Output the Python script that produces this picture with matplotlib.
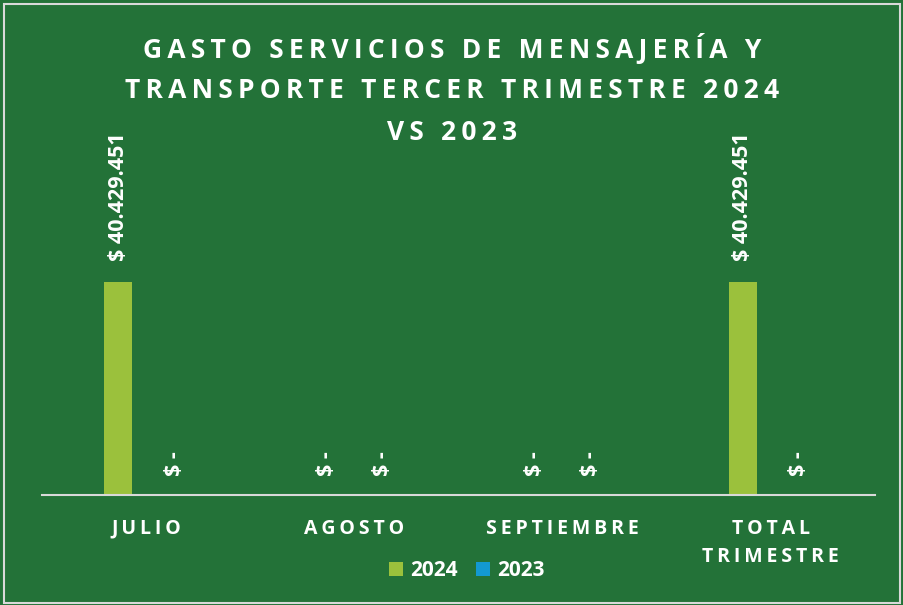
import matplotlib.pyplot as plt
import numpy as np
from matplotlib.patches import Rectangle

categories = ['JULIO', 'AGOSTO', 'SEPTIEMBRE', 'TOTAL\nTRIMESTRE']
v2024 = [40429451, 0, 0, 40429451]
v2023 = [0, 0, 0, 0]
series = ['2024', '2023']
title_lines = ['GASTO SERVICIOS DE MENSAJERÍA Y', 'TRANSPORTE TERCER TRIMESTRE 2024', 'VS 2023']

BG = '#237238'
C24 = '#9BC13C'
C23 = '#1399D1'
FONT = ['Open Sans', 'DejaVu Sans']


def spaced(s, sep='\u2009'):
    # fake letter spacing with thin spaces
    return '\n'.join(sep.join(line) for line in s.split('\n'))


def money(v):
    if v == 0:
        return '$ -'
    return '$ ' + f'{v:,.0f}'.replace(',', '.')


fig = plt.figure(figsize=(9.04, 6.05), dpi=100)
fig.patch.set_facecolor(BG)
fig.patches.append(Rectangle((0.004, 0.004), 0.992, 0.990, transform=fig.transFigure,
                             fill=False, edgecolor='#D9D9D9', linewidth=1.5))

ax = fig.add_axes([42 / 904, 110 / 605, 833 / 904, 263.4 / 605])
ax.set_facecolor(BG)

x = np.arange(len(categories))
w = 0.135
b1 = ax.bar(x - w, v2024, w, color=C24, label=series[0])
b2 = ax.bar(x + w, v2023, w, color=C23, label=series[1])

for bars, vals in [(b1, v2024), (b2, v2023)]:
    for r, v in zip(bars, vals):
        ax.annotate(money(v), (r.get_x() + r.get_width() / 2, v),
                    xytext=(0, 13.5 if v == 0 else 15), textcoords='offset points',
                    rotation=90, ha='center', va='bottom', color='white',
                    fontsize=15.5, fontweight='bold', family=FONT,
                    annotation_clip=False)

ax.set_xlim(-0.5, 3.5)
ax.set_ylim(0, 50e6)
ax.set_yticks([])
ax.set_xticks(x)
ax.set_xticklabels([spaced(c) for c in categories], color='white', fontsize=14,
                   fontweight='bold', family=FONT, linespacing=1.55)
ax.tick_params(axis='x', length=0, pad=17)
for s in ['top', 'right', 'left']:
    ax.spines[s].set_visible(False)
ax.spines['bottom'].set_color('#D9D9D9')
ax.spines['bottom'].set_linewidth(1.5)

# title, one text per line
for i, line in enumerate(title_lines):
    fig.text(0.5, 1 - (48 + 42 * i) / 605, spaced(line), ha='center', va='center',
             color='white', fontsize=19, fontweight='bold', family=FONT)

leg = fig.legend(loc='center', bbox_to_anchor=(467 / 904, 1 - 571 / 605), ncol=2,
                 frameon=False, handlelength=0.65, handleheight=0.65, handletextpad=0.35,
                 columnspacing=0.9, prop={'family': FONT, 'weight': 'bold', 'size': 15})
for t in leg.get_texts():
    t.set_color('white')

plt.savefig('out.png', facecolor=BG)
